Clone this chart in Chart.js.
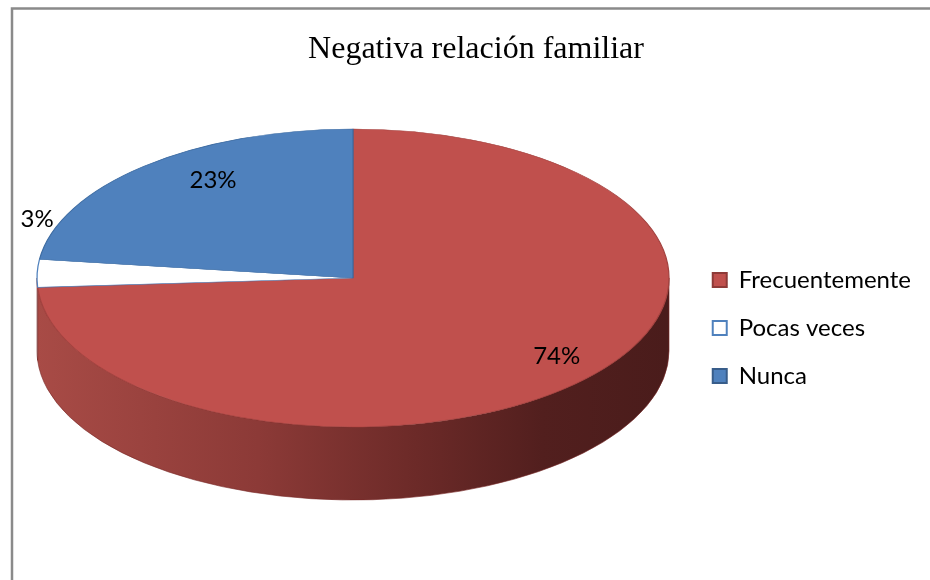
<!DOCTYPE html>
<html><head><meta charset="utf-8">
<script src="https://cdn.jsdelivr.net/npm/chart.js@4.4.1/dist/chart.umd.min.js"></script>
<style>html,body{margin:0;padding:0;background:#fff;}#wrap{width:930px;height:580px;position:relative;}</style>
</head><body><div id="wrap"><canvas id="c"></canvas></div>
<script>
// ---- data ----
const categories = ['Frecuentemente', 'Pocas veces', 'Nunca'];
const values = [74, 3, 23];
const chartTitle = 'Negativa relación familiar';

// ---- styles ----
const fills = ['#C0504D', '#FFFFFF', '#4F81BD'];
const borders = ['#A3423F', '#4F81BD', '#3E6CA2'];
const legendStroke = ['#8E3A37', '#4F81BD', '#385D8A'];
const sideStops = [
  [[0, '#A84B46'], [0.35, '#8C3A37'], [0.6, '#6C2A28'], [0.8, '#521F1E'], [1, '#4A1C1B']],
  [[0, '#D9D9D9'], [1, '#BFBFBF']],
  [[0, '#3A6598'], [1, '#233F60']]
];
const GEO = { cx: 353, cy: 278, rx: 316, ry: 149, depth: 73 };
const LABEL_FONT = '24px Lato, "Open Sans", sans-serif';

const pie3d = {
  id: 'pie3d',
  beforeDraw(chart) {
    const ctx = chart.ctx;
    ctx.save();
    ctx.strokeStyle = '#8A8A8A';
    ctx.lineWidth = 2.5;
    ctx.beginPath();
    ctx.moveTo(12, 590);
    ctx.lineTo(12, 8.5);
    ctx.lineTo(940, 8.5);
    ctx.stroke();
    ctx.restore();
  },
  beforeDatasetsDraw(chart) {
    const ctx = chart.ctx;
    const arcs = chart.getDatasetMeta(0).data;
    const { cx, cy, rx, ry, depth } = GEO;
    arcs.forEach((a, i) => {
      const b0 = Math.max(a.startAngle, 0), b1 = Math.min(a.endAngle, Math.PI);
      if (b1 <= b0) return;
      const g = ctx.createLinearGradient(cx - rx, 0, cx + rx, 0);
      sideStops[i].forEach(s => g.addColorStop(s[0], s[1]));
      ctx.save();
      ctx.beginPath();
      ctx.ellipse(cx, cy, rx, ry, 0, b0, b1, false);
      ctx.lineTo(cx + rx * Math.cos(b1), cy + depth + ry * Math.sin(b1));
      ctx.ellipse(cx, cy + depth, rx, ry, 0, b1, b0, true);
      ctx.closePath();
      ctx.fillStyle = g;
      ctx.fill();
      ctx.strokeStyle = 'rgba(120,40,38,0.6)';
      ctx.lineWidth = 1;
      ctx.stroke();
      ctx.restore();
    });
    const a = arcs[0];
    const r = a.outerRadius;
    ctx.save();
    ctx.translate(cx, cy);
    ctx.scale(rx / r, ry / r);
    ctx.translate(-a.x, -a.y);
  },
  afterDatasetsDraw(chart) {
    const ctx = chart.ctx;
    ctx.restore();
    const arcs = chart.getDatasetMeta(0).data;
    const total = values.reduce((s, v) => s + v, 0);
    const { cx, cy, rx, ry } = GEO;
    const nudges = chart.options.plugins.pie3d.nudges;
    ctx.save();
    ctx.font = LABEL_FONT;
    ctx.fillStyle = '#000';
    ctx.textAlign = 'center';
    ctx.textBaseline = 'middle';
    arcs.forEach((a, i) => {
      const share = values[i] / total;
      const mid = (a.startAngle + a.endAngle) / 2;
      let x, y;
      if (share >= 0.05) {
        x = cx + 0.78 * rx * Math.cos(mid);
        y = cy + 0.78 * ry * Math.sin(mid);
      } else {
        x = cx + rx * Math.cos(mid);
        y = cy + ry * Math.sin(mid) - 52;
      }
      const n = nudges[i] || [0, 0];
      ctx.fillText(Math.round(share * 100) + '%', x + n[0], y + n[1]);
    });
    ctx.restore();
  }
};

new Chart(document.getElementById('c'), {
  type: 'pie',
  data: {
    labels: categories,
    datasets: [{
      data: values,
      backgroundColor: fills,
      borderColor: borders,
      borderWidth: 1,
      clip: false
    }]
  },
  options: {
    responsive: true,
    maintainAspectRatio: false,
    animation: false,
    events: [],
    layout: { padding: { left: 31, right: 9, top: 0, bottom: -76 } },
    plugins: {
      pie3d: { nudges: [[24, -1], [0, -2], [23, -11]] },
      tooltip: { enabled: false },
      title: {
        display: true,
        text: chartTitle,
        color: '#000',
        font: { family: '"Liberation Serif", "Times New Roman", serif', size: 32, weight: 'normal' },
        padding: { top: 30, bottom: 10 }
      },
      legend: {
        position: 'right',
        align: 'center',
        labels: {
          boxWidth: 14,
          boxHeight: 14,
          padding: 24,
          color: '#000',
          font: { family: 'Lato, "Open Sans", sans-serif', size: 24 },
          generateLabels: () => categories.map((t, i) => ({
            text: t, fillStyle: fills[i], strokeStyle: legendStroke[i], lineWidth: 2,
            hidden: false, index: i, fontColor: '#000'
          }))
        }
      }
    }
  },
  plugins: [pie3d]
});
</script></body></html>
